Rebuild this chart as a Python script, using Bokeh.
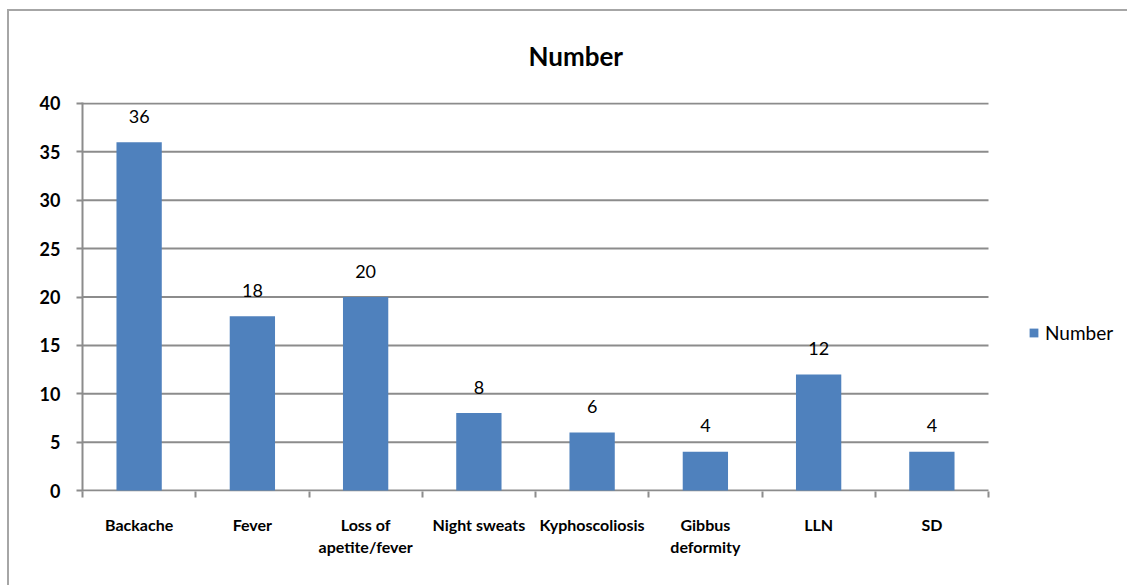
from bokeh.plotting import figure
from bokeh.models import FixedTicker, Range1d, Legend, LegendItem, ColumnDataSource
from bokeh.core.properties import value
from bokeh.embed import file_html
from bokeh.resources import INLINE

categories = ["Backache", "Fever", "Loss of\napetite/fever", "Night sweats",
              "Kyphoscoliosis", "Gibbus\ndeformity", "LLN", "SD"]
numbers = [36, 18, 20, 8, 6, 4, 12, 4]
y_ticks = [0, 5, 10, 15, 20, 25, 30, 35, 40]
series_name = "Number"

FONT = "Lato"
GRID = "#8c8c8c"
BAR = "#4f81bd"

n = len(categories)
# plot area spans 906 px of a 1047 px frame; the rest on the right holds the legend
PLOT_PX, FRAME_PX = 906, 1047
x_end = n * FRAME_PX / PLOT_PX

xs = [i + 0.5 for i in range(n)]
src = ColumnDataSource(dict(x=xs, top=numbers, label=[str(v) for v in numbers]))

p = figure(width=1120, height=576, output_backend="svg", toolbar_location=None,
           x_range=Range1d(0, x_end), y_range=Range1d(-0.1, 40.1),
           min_border_left=73, min_border_right=0, min_border_top=91, min_border_bottom=96)
p.styles = {"border-top": "2px solid #a6a6a6", "border-left": "2px solid #a6a6a6",
            "margin-left": "7px", "margin-top": "9px"}
p.outline_line_color = None
p.xgrid.visible = False
p.ygrid.visible = False

p.title.text = series_name
p.title.align = "left"
p.title.offset = 446
p.title.vertical_align = "top"
p.title.text_font = FONT
p.title.text_font_size = "26px"
p.title.text_font_style = "bold"
p.title.text_color = "black"
p.title.standoff = 57

# horizontal gridlines across the plot area only
p.segment(x0=[0] * len(y_ticks), x1=[n] * len(y_ticks), y0=y_ticks, y1=y_ticks,
          line_color=GRID, line_width=2)

r = p.vbar(x="x", top="top", width=0.4, bottom=0, source=src, fill_color=BAR, line_color=None)
p.text(x="x", y="top", text="label", source=src, text_align="center", text_baseline="middle",
       y_offset=-26, text_font=value(FONT), text_font_size="18px", text_color="black")

# x axis
p.xaxis.ticker = FixedTicker(ticks=xs, minor_ticks=list(range(n + 1)))
p.xaxis.major_label_overrides = {x: c for x, c in zip(xs, categories)}
p.xaxis.major_tick_line_color = None
p.xaxis.minor_tick_line_color = GRID
p.xaxis.minor_tick_line_width = 2
p.xaxis.minor_tick_in = 0
p.xaxis.minor_tick_out = 6
p.xaxis.axis_line_color = None
p.xaxis.major_label_text_font = FONT
p.xaxis.major_label_text_font_size = "16px"
p.xaxis.major_label_text_font_style = "bold"
p.xaxis.major_label_text_color = "black"
p.xaxis.major_label_standoff = 17

# y axis
p.yaxis.ticker = FixedTicker(ticks=y_ticks, minor_ticks=[])
p.yaxis.major_tick_in = 0
p.yaxis.major_tick_out = 6
p.yaxis.major_tick_line_color = GRID
p.yaxis.major_tick_line_width = 2
p.yaxis.axis_line_color = GRID
p.yaxis.axis_line_width = 2
p.yaxis.major_label_text_font = FONT
p.yaxis.major_label_text_font_size = "18px"
p.yaxis.major_label_text_font_style = "bold"
p.yaxis.major_label_text_color = "black"
p.yaxis.major_label_standoff = 16

legend = Legend(items=[LegendItem(label=series_name, renderers=[r])], location=(946, 147),
                padding=0, margin=0, border_line_color=None, background_fill_alpha=0,
                glyph_width=11, glyph_height=11, label_standoff=6, label_height=20,
                label_text_font=FONT, label_text_font_size="19px", label_text_color="black")
p.add_layout(legend, "center")

open("out.html", "w").write(file_html(p, INLINE))
